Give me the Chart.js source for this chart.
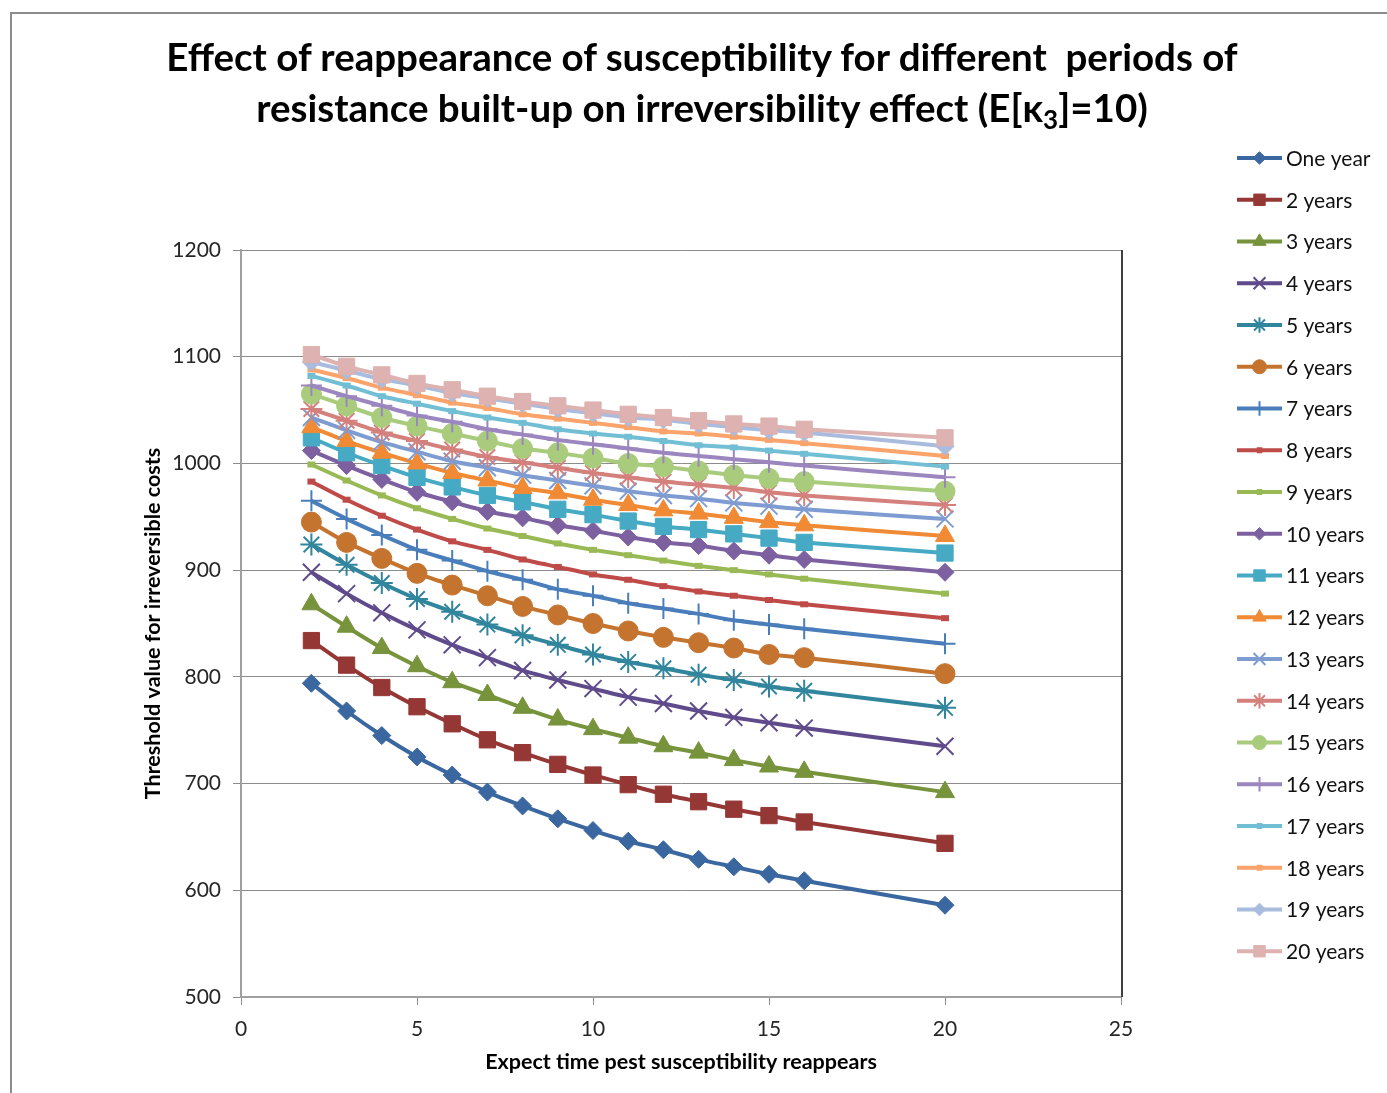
<!DOCTYPE html>
<html>
<head>
<meta charset="utf-8">
<script src="https://cdn.jsdelivr.net/npm/chart.js@4.4.1/dist/chart.umd.min.js"></script>
<style>
  html, body { margin: 0; padding: 0; background: #fff; overflow: hidden; }
  .frame { position: absolute; left: 10px; top: 12px; width: 1400px; height: 1100px; border: 2px solid #8c8c8c; box-sizing: border-box; }
  .title { position: absolute; left: 0; top: 31px; width: 1404px; text-align: center; font-family: Lato, 'Open Sans', sans-serif; font-weight: bold; font-size: 38.5px; line-height: 51px; color: #000; white-space: pre; }
  .title sub { font-size: 26px; line-height: 0; vertical-align: -7px; }
  canvas { position: absolute; left: 0; top: 0; }
</style>
</head>
<body>
<div class="frame"></div>
<canvas id="chart" width="1387" height="1093"></canvas>
<div class="title">Effect of reappearance of susceptibility for different  periods of
resistance built-up on irreversibility effect (E[κ<sub>3</sub>]=10)</div>
<script>
// ── Data ──
const xValues = [2, 3, 4, 5, 6, 7, 8, 9, 10, 11, 12, 13, 14, 15, 16, 20];
const seriesNames = ['One year', '2 years', '3 years', '4 years', '5 years', '6 years', '7 years', '8 years', '9 years', '10 years',
  '11 years', '12 years', '13 years', '14 years', '15 years', '16 years', '17 years', '18 years', '19 years', '20 years'];

const y1  = [794, 768, 745, 725, 708, 692, 679, 667, 656, 646, 638, 629, 622, 615, 609, 586];
const y2  = [834, 811, 790, 772, 756, 741, 729, 718, 708, 699, 690, 683, 676, 670, 664, 644];
const y3  = [868, 847, 827, 810, 795, 783, 771, 760, 751, 743, 735, 729, 722, 716, 711, 692];
const y4  = [898, 878, 860, 844, 830, 818, 806, 797, 789, 781, 775, 768, 762, 757, 752, 735];
const y5  = [924, 905, 888, 873, 861, 849, 839, 830, 821, 814, 808, 802, 797, 791, 787, 771];
const y6  = [945, 926, 911, 897, 886, 876, 866, 858, 850, 843, 837, 832, 827, 821, 818, 803];
const y7  = [965, 948, 933, 919, 909, 899, 891, 882, 876, 869, 864, 859, 853, 849, 845, 831];
const y8  = [983, 966, 951, 938, 927, 919, 910, 903, 896, 891, 885, 880, 876, 872, 868, 855];
const y9  = [999, 984, 970, 958, 948, 939, 932, 925, 919, 914, 909, 904, 900, 896, 892, 878];
const y10 = [1012, 998, 985, 973, 964, 955, 949, 942, 937, 931, 926, 923, 918, 914, 910, 898];
const y11 = [1024, 1010, 998, 987, 978, 970, 964, 957, 952, 946, 941, 938, 934, 930, 926, 916];
const y12 = [1034, 1021, 1010, 1000, 991, 984, 977, 972, 966, 961, 956, 953, 949, 945, 942, 932];
const y13 = [1043, 1031, 1020, 1011, 1002, 996, 989, 984, 979, 974, 970, 967, 963, 960, 957, 948];
const y14 = [1051, 1040, 1029, 1021, 1013, 1006, 1001, 996, 991, 987, 983, 980, 977, 973, 970, 961];
const y15 = [1065, 1054, 1043, 1035, 1028, 1021, 1014, 1010, 1005, 1000, 997, 993, 989, 986, 983, 974];
const y16 = [1073, 1063, 1054, 1045, 1039, 1032, 1027, 1022, 1018, 1014, 1010, 1007, 1004, 1001, 998, 987];
const y17 = [1082, 1073, 1063, 1056, 1049, 1043, 1038, 1032, 1028, 1025, 1021, 1017, 1015, 1012, 1009, 997];
const y18 = [1088, 1080, 1071, 1064, 1057, 1052, 1046, 1042, 1038, 1034, 1030, 1028, 1025, 1022, 1019, 1007];
const y19 = [1095, 1087, 1079, 1073, 1066, 1061, 1056, 1051, 1047, 1043, 1041, 1037, 1034, 1031, 1029, 1016];
const y20 = [1102, 1091, 1083, 1075, 1069, 1063, 1058, 1054, 1050, 1046, 1043, 1040, 1037, 1035, 1032, 1024];
const allSeries = [y1, y2, y3, y4, y5, y6, y7, y8, y9, y10, y11, y12, y13, y14, y15, y16, y17, y18, y19, y20];

// ── Styles ──
const COLORS = ['#3B67A0', '#953735', '#77933C', '#5F4A8B', '#31859C', '#C5742F', '#4A7EBB', '#BE4B48', '#98B954', '#7D60A0',
  '#46AAC5', '#F08A35', '#7E9CD2', '#D4807C', '#A9CB7C', '#9C86BF', '#72BFD5', '#FAA36B', '#A9BCDE', '#DDB2B0'];
// Excel marker cycle: diamond, square, triangle, x, star, circle, plus, dash, dash
const MARKERS = [
  { style: 'rectRot', r: 9, bw: 1 },
  { style: 'rect', r: 11.5, bw: 1 },
  { style: 'triangle', r: 11, bw: 1 },
  { style: 'crossRot', r: 12, bw: 2 },
  { style: 'star', r: 11, bw: 2 },
  { style: 'circle', r: 10, bw: 1 },
  { style: 'cross', r: 10.5, bw: 2 },
  { style: 'line', r: 4, bw: 6 },
  { style: 'line', r: 4, bw: 6 }
];
const FONT = "Lato, 'Open Sans', sans-serif";

const datasets = allSeries.map((ys, i) => {
  const m = MARKERS[i % MARKERS.length];
  return {
    label: seriesNames[i],
    data: xValues.map((x, j) => ({ x, y: ys[j] })),
    borderColor: COLORS[i],
    backgroundColor: COLORS[i],
    borderWidth: 4,
    tension: 0.2,
    pointStyle: m.style,
    pointRadius: m.r,
    pointHoverRadius: m.r,
    pointBorderWidth: m.bw,
    pointBackgroundColor: COLORS[i],
    pointBorderColor: COLORS[i],
    order: allSeries.length - i
  };
});

// ── Plugins ──
const frameLines = {
  id: 'frameLines',
  afterDraw(chart) {
    const { ctx, chartArea: a } = chart;
    ctx.save();
    ctx.strokeStyle = '#404040';
    ctx.lineWidth = 2;
    ctx.beginPath();
    ctx.moveTo(a.right + 1, a.top);
    ctx.lineTo(a.right + 1, a.bottom);
    ctx.stroke();
    ctx.restore();
  }
};

const sideLegend = {
  id: 'sideLegend',
  afterDraw(chart) {
    const ctx = chart.ctx;
    const x0 = 1237, x1 = 1282, top = 158, step = 41.75;
    ctx.save();
    chart.data.datasets.forEach((ds, i) => {
      const y = top + i * step;
      ctx.strokeStyle = ds.borderColor;
      ctx.lineWidth = 4;
      ctx.beginPath();
      ctx.moveTo(x0, y);
      ctx.lineTo(x1, y);
      ctx.stroke();
      const m = MARKERS[i % MARKERS.length];
      ctx.fillStyle = ds.pointBackgroundColor;
      ctx.strokeStyle = ds.pointBorderColor;
      ctx.lineWidth = m.bw;
      if (Chart.helpers && Chart.helpers.drawPoint) {
        Chart.helpers.drawPoint(ctx, { pointStyle: m.style, radius: m.r * 0.7, rotation: 0, borderWidth: m.bw }, (x0 + x1) / 2, y);
      }
      ctx.fillStyle = '#111';
      ctx.font = '21px ' + FONT;
      ctx.textBaseline = 'middle';
      ctx.textAlign = 'left';
      ctx.fillText(ds.label, x1 + 4, y + 1);
    });
    ctx.restore();
  }
};

new Chart(document.getElementById('chart'), {
  type: 'line',
  data: { datasets },
  plugins: [frameLines, sideLegend],
  options: {
    responsive: false,
    devicePixelRatio: 1,
    animation: false,
    layout: { padding: { top: 250, right: 266, left: 130, bottom: 0 } },
    plugins: {
      legend: { display: false },
      tooltip: { enabled: false },
      title: { display: false }
    },
    scales: {
      x: {
        type: 'linear',
        min: 0, max: 25,
        afterFit: s => { s.height = 96; },
        ticks: { stepSize: 5, padding: 12, color: '#262626', font: { family: FONT, size: 21 } },
        grid: { drawOnChartArea: false, drawTicks: true, tickLength: 8, color: '#8c8c8c' },
        border: { color: '#a0a0a0', width: 2 },
        title: {
          display: true,
          text: 'Expect time pest susceptibility reappears',
          color: '#000',
          font: { family: FONT, size: 21.5, weight: 'bold' },
          padding: { top: 0, bottom: 18 }
        }
      },
      y: {
        min: 500, max: 1200,
        afterFit: s => { s.width = 111; },
        ticks: { stepSize: 100, padding: 12, color: '#262626', font: { family: FONT, size: 21 }, callback: v => String(v) },
        grid: { color: '#8c8c8c', lineWidth: 1, tickLength: 8 },
        border: { color: '#a0a0a0', width: 2 },
        title: {
          display: true,
          text: 'Threshold value for irreversible costs',
          color: '#000',
          font: { family: FONT, size: 21.5, weight: 'bold' },
          padding: { top: 10, bottom: 0 }
        }
      }
    }
  }
});
</script>
</body>
</html>
